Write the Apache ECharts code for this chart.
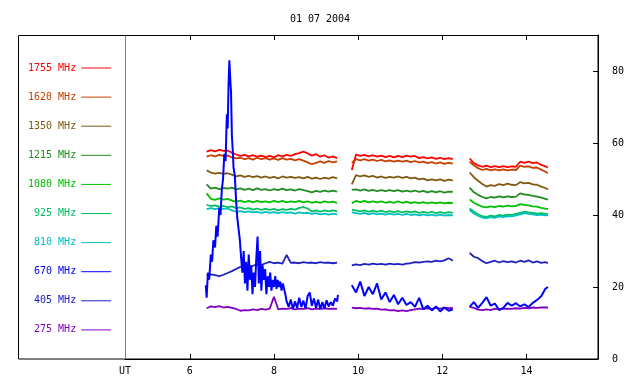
<!DOCTYPE html>
<html><head><meta charset="utf-8">
<script src="https://cdn.jsdelivr.net/npm/echarts@6/dist/echarts.min.js"></script>
<style>html,body{margin:0;padding:0;background:#fff}#c{width:640px;height:384px}</style>
</head><body><div id="c"></div><script>
const titleText = '01 07 2004';
const xTicks = [6, 8, 10, 12, 14];
const yTicks = [0, 20, 40, 60, 80];
const names = ['1755 MHz','1620 MHz','1350 MHz','1215 MHz','1080 MHz','925 MHz','810 MHz','670 MHz','405 MHz','275 MHz'];
const colors = ['#ff0000','#c84000','#805a10','#228b22','#00c000','#00c060','#00c0c0','#0000ff','#2020c0','#8000c0'];

const t1 = [6.4,6.5,6.6,6.7,6.8,6.9,7.0,7.1,7.2,7.3,7.4,7.5,7.6,7.7,7.8,7.9,8.0,8.1,8.2,8.3,8.4,8.5,8.6,8.7,8.8,8.9,9.0,9.1,9.2,9.3,9.4,9.5];
const t2 = [9.85,9.95,10.05,10.15,10.25,10.35,10.45,10.55,10.65,10.75,10.85,10.95,11.05,11.15,11.25,11.35,11.45,11.55,11.65,11.75,11.85,11.95,12.05,12.15,12.25];
const t3 = [12.65,12.75,12.85,12.95,13.05,13.15,13.25,13.35,13.45,13.55,13.65,13.75,13.85,13.95,14.05,14.15,14.25,14.35,14.45,14.51];
const t670 = [6.38,6.40,6.43,6.46,6.50,6.53,6.56,6.60,6.63,6.66,6.70,6.73,6.76,6.79,6.82,6.85,6.88,6.90,6.92,6.94,6.96,6.98,7.00,7.02,7.04,7.07,7.10,7.13,7.16,7.19,7.22,7.25,7.28,7.31,7.34,7.37,7.40,7.43,7.46,7.49,7.52,7.55,7.58,7.61,7.64,7.67,7.70,7.73,7.76,7.79,7.82,7.85,7.88,7.91,7.94,7.97,8.00,8.03,8.06,8.09,8.12,8.15,8.18,8.21,8.24,8.27,8.30,8.35,8.40,8.45,8.50,8.55,8.60,8.65,8.70,8.75,8.80,8.85,8.90,8.95,9.00,9.05,9.10,9.15,9.20,9.25,9.30,9.35,9.40,9.45,9.50,9.52];

const s1755a = [57.6,58.0,57.7,58.1,57.8,57.9,57.3,56.8,56.4,56.7,56.3,56.6,56.2,56.5,56.1,56.4,56.0,56.6,56.3,56.7,56.4,56.9,57.2,57.6,57.1,56.5,56.9,56.2,56.6,55.9,56.3,55.8];
const s1755b = [52.5,56.8,56.4,56.7,56.3,56.6,56.2,56.5,56.1,56.4,56.0,56.4,56.1,56.5,56.2,56.4,55.8,56.1,55.7,56.0,55.6,55.9,55.5,55.8,55.5];
const s1755c = [55.7,54.4,53.8,53.4,53.7,53.3,53.6,53.3,53.6,53.3,53.5,53.4,54.8,54.5,54.8,54.4,54.6,53.9,53.5,53.2];

const s1620a = [56.2,56.6,56.3,56.7,56.4,56.5,56.0,55.7,55.9,55.5,55.8,55.4,55.9,55.5,55.8,55.4,55.7,55.3,55.8,55.4,55.6,55.2,55.5,55.1,54.6,54.1,54.5,54.9,54.5,55.0,54.6,54.9];
const s1620b = [54.5,55.5,55.2,55.5,55.1,55.4,55.0,55.3,54.9,55.2,54.8,55.1,54.8,55.1,54.7,55.0,54.6,54.8,54.4,54.7,54.3,54.6,54.2,54.5,54.3];
const s1620c = [54.8,53.8,53.0,52.5,52.8,52.4,52.7,52.4,52.7,52.4,52.6,52.5,53.7,53.4,53.5,53.1,53.2,52.6,52.0,51.6];

const s1350a = [52.4,51.8,51.5,51.7,51.4,51.6,51.2,50.7,51.0,50.6,50.9,50.5,50.8,50.4,50.7,50.3,50.6,50.2,50.7,50.4,50.6,50.3,50.5,50.2,50.6,50.1,50.4,50.0,50.4,50.1,50.5,50.2];
const s1350b = [48.5,51.1,50.7,51.0,50.6,50.9,50.4,50.7,50.3,50.6,50.4,50.7,50.3,50.6,50.2,50.4,49.9,50.1,49.6,49.9,49.6,49.9,49.5,49.8,49.6];
const s1350c = [51.8,50.5,49.5,48.6,47.9,48.3,48.1,48.6,48.3,48.7,48.4,48.3,49.1,48.8,48.9,48.5,48.4,47.9,47.5,47.1];

const s1215a = [48.5,47.3,47.6,47.2,47.5,47.3,47.6,47.1,47.4,47.0,47.3,46.9,47.4,47.0,47.2,46.8,47.2,46.9,47.3,46.9,47.1,46.8,47.2,46.9,46.6,46.3,46.7,46.4,46.8,46.5,46.8,46.5];
const s1215b = [47.0,47.1,46.8,47.1,46.7,47.0,46.6,46.9,46.6,46.9,46.6,46.9,46.5,46.8,46.5,46.8,46.4,46.7,46.3,46.6,46.3,46.6,46.2,46.5,46.4];
const s1215c = [47.6,46.3,45.6,45.0,44.6,45.0,44.8,45.2,44.9,45.2,45.0,45.1,46.0,45.7,45.6,45.3,45.1,44.8,44.5,44.3];

const s1080a = [46.0,44.5,44.2,44.6,44.3,44.5,44.0,43.7,44.0,43.6,43.9,43.5,43.9,43.6,43.8,43.5,43.9,43.6,43.9,43.5,43.8,43.6,43.9,43.5,43.8,43.4,43.7,43.4,43.8,43.5,43.7,43.4];
const s1080b = [43.3,43.9,43.6,43.9,43.5,43.8,43.5,43.8,43.4,43.7,43.4,43.8,43.4,43.7,43.3,43.6,43.3,43.6,43.2,43.5,43.2,43.5,43.2,43.4,43.3];
const s1080c = [44.3,43.4,42.8,42.3,42.1,42.4,42.2,42.5,42.3,42.6,42.4,42.5,43.0,42.8,42.7,42.4,42.3,42.0,41.8,41.6];

const s925a = [42.8,42.5,42.7,42.3,42.5,42.2,42.4,41.9,42.1,41.7,41.9,41.5,41.8,41.4,41.7,41.4,41.7,41.3,41.6,41.4,41.7,41.5,42.0,42.2,41.8,41.0,41.3,40.9,41.3,41.0,41.3,41.0];
const s925b = [41.5,41.3,41.0,41.3,40.9,41.2,40.9,41.2,40.8,41.1,40.8,41.1,40.7,41.0,40.7,41.0,40.6,40.9,40.6,40.9,40.5,40.8,40.5,40.8,40.6];
const s925c = [41.8,40.9,40.2,39.7,39.5,39.8,39.6,40.0,39.8,40.1,40.0,40.3,40.6,40.9,40.7,40.6,40.4,40.5,40.3,40.4];

const s810a = [41.6,41.9,41.6,41.9,41.7,41.8,41.3,40.9,41.1,40.8,41.0,40.7,40.9,40.6,40.9,40.6,40.8,40.5,40.8,40.6,40.7,40.4,40.7,40.5,40.6,40.3,40.5,40.2,40.4,40.1,40.4,40.2];
const s810b = [40.8,40.5,40.3,40.6,40.2,40.5,40.2,40.4,40.1,40.4,40.1,40.3,40.0,40.3,40.0,40.2,39.9,40.2,39.9,40.1,39.8,40.1,39.8,40.0,39.9];
const s810c = [41.4,40.4,39.8,39.3,39.1,39.4,39.2,39.6,39.4,39.7,39.6,39.9,40.2,40.5,40.3,40.2,40.0,40.1,39.9,40.0];

const s670a = [20.5,17.0,24.0,22.0,29.0,27.0,33.0,31.0,37.0,34.0,42.0,40.0,47.0,50.0,57.0,55.0,68.0,64.0,76.0,83.0,78.0,74.0,62.0,58.0,53.0,51.0,44.0,39.0,36.0,33.0,28.0,24.0,30.0,21.0,27.0,19.0,29.0,22.0,26.0,18.0,24.0,20.0,28.0,34.0,21.0,30.0,19.0,26.0,22.0,25.0,18.0,23.0,20.0,24.0,19.0,22.0,20.0,23.0,19.5,22.0,20.0,21.5,19.0,21.0,19.5,18.0,16.0,14.5,16.5,13.8,16.0,14.2,17.0,14.5,16.2,14.0,17.5,18.5,14.8,16.8,14.2,16.5,13.8,15.8,14.0,16.3,14.6,15.8,14.8,16.8,16.0,17.8];
const s670b = [20.5,18.5,21.5,17.5,20.0,18.0,21.0,16.5,18.5,15.8,17.8,15.2,17.0,15.0,15.8,14.5,17.0,13.8,14.8,13.5,14.6,13.2,14.3,13.4,13.8];
const s670c = [14.5,15.8,14.2,15.6,17.2,14.8,15.4,13.6,14.2,15.6,14.8,15.5,14.6,15.2,14.4,15.6,16.4,17.4,19.5,20.0];

const s405a = [23.2,23.5,23.3,23.0,23.4,23.9,24.4,25.0,25.6,26.0,25.6,25.9,26.3,26.1,26.6,27.0,26.6,26.8,26.5,28.9,26.7,26.8,26.6,26.9,26.7,26.8,26.6,26.9,26.7,26.8,26.6,26.8];
const s405b = [26.0,26.3,26.1,26.4,26.2,26.5,26.3,26.4,26.2,26.5,26.3,26.4,26.2,26.5,26.6,26.9,26.8,27.0,27.1,27.0,27.3,27.1,27.4,28.0,27.3];
const s405c = [29.5,28.4,28.0,27.2,26.6,27.0,27.3,26.8,27.2,26.9,27.1,26.8,27.3,27.0,27.4,26.8,27.1,26.7,26.9,26.6];

const s275a = [14.1,14.6,14.4,14.7,14.3,14.5,14.2,13.9,13.4,13.6,13.5,13.8,13.6,13.9,13.7,14.0,17.3,13.8,14.0,13.9,14.1,13.8,14.0,13.9,14.1,13.8,14.0,13.9,14.1,13.9,14.0,13.9];
const s275b = [14.3,14.1,14.2,14.0,14.1,13.9,14.0,13.7,13.8,13.5,13.6,13.3,13.5,13.3,13.6,13.8,14.0,13.9,14.1,13.9,14.2,14.0,14.3,14.1,14.2];
const s275c = [14.5,14.2,13.7,13.6,13.8,13.6,14.0,13.8,13.9,14.0,13.9,14.1,14.0,14.2,14.1,14.3,14.2,14.3,14.3,14.3];

const gaps = [9.7, 12.45];

function seg(t, v) { return t.map((x, i) => [x, v[i]]); }
function build(a, b, c, ta) {
  return [].concat(seg(ta || t1, a), [[gaps[0], '-']], seg(t2, b), [[gaps[1], '-']], seg(t3, c));
}
const seriesData = [
  build(s1755a, s1755b, s1755c),
  build(s1620a, s1620b, s1620c),
  build(s1350a, s1350b, s1350c),
  build(s1215a, s1215b, s1215c),
  build(s1080a, s1080b, s1080c),
  build(s925a, s925b, s925c),
  build(s810a, s810b, s810c),
  build(s670a, s670b, s670c, t670),
  build(s405a, s405b, s405c),
  build(s275a, s275b, s275c)
];

const FONT = 'DejaVu Sans Mono';
const XMIN = 4.46, XMAX = 15.70;

const chart = echarts.init(document.getElementById('c'), null, {renderer: 'canvas'});
chart.setOption({
  animation: false,
  backgroundColor: '#fff',
  title: {
    text: titleText, left: 'center', top: 9,
    textStyle: {fontFamily: FONT, fontSize: 10, fontWeight: 'normal', color: '#000'}
  },
  grid: {left: 125, right: 42, top: 35, bottom: 25, containLabel: false},
  legend: {
    orient: 'vertical', left: 28, top: 62, padding: 0,
    align: 'right', itemWidth: 30, itemHeight: 1, itemGap: 17.1,
    icon: 'rect',
    selectedMode: false,
    formatter: n => n.padStart(8, ' '),
    textStyle: {fontFamily: FONT, fontSize: 10, lineHeight: 12},
    data: names.map((n, i) => ({name: n, textStyle: {color: colors[i]}}))
  },
  xAxis: [{
    type: 'value', min: XMIN, max: XMAX, position: 'bottom',
    axisLine: {show: true, lineStyle: {color: '#000', width: 1}},
    axisTick: {show: true, inside: true, length: 5, customValues: xTicks, lineStyle: {color: '#000'}},
    axisLabel: {show: true, customValues: [XMIN].concat(xTicks), margin: 7,
      formatter: v => (v < 5 ? 'UT' : String(v)),
      fontFamily: FONT, fontSize: 10, color: '#000'},
    splitLine: {show: false}
  }, {
    type: 'value', min: XMIN, max: XMAX, position: 'top',
    axisLine: {show: true, lineStyle: {color: '#000', width: 1}},
    axisTick: {show: true, inside: true, length: 5, customValues: xTicks, lineStyle: {color: '#000'}},
    axisLabel: {show: false},
    splitLine: {show: false}
  }],
  yAxis: {
    type: 'value', min: 0, max: 90, position: 'right',
    axisLine: {show: true, lineStyle: {color: '#000', width: 1}},
    axisTick: {show: true, inside: true, length: 5, customValues: yTicks, lineStyle: {color: '#000'}},
    axisLabel: {show: true, customValues: yTicks, margin: 14, fontFamily: FONT, fontSize: 10, color: '#000'},
    splitLine: {show: false}
  },
  graphic: [
    {type: 'rect', shape: {x: 18.5, y: 35.5, width: 579.5, height: 323.5}, style: {fill: 'none', stroke: '#000', lineWidth: 1}, z: 100, silent: true},
    {type: 'line', shape: {x1: 125.5, y1: 35.5, x2: 125.5, y2: 359}, style: {stroke: '#808080', lineWidth: 1}, z: 100, silent: true}
  ],
  series: names.map((n, i) => ({
    name: n, type: 'line', data: seriesData[i],
    xAxisIndex: 0, yAxisIndex: 0,
    symbol: 'none', showSymbol: false, connectNulls: false,
    lineStyle: {color: colors[i], width: i === 7 ? 2 : 1.8},
    itemStyle: {color: colors[i]},
    z: i === 7 ? 5 : 2
  }))
});
</script></body></html>
